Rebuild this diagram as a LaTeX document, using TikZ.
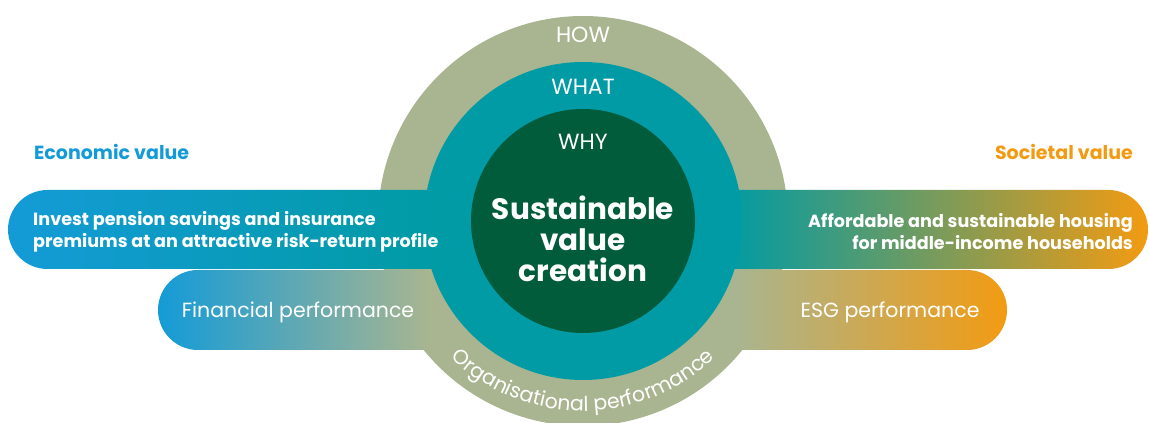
\documentclass[tikz,border=0pt]{standalone}
\usepackage{fontspec}
\setmainfont{Poppins}
\usetikzlibrary{decorations.text}

\definecolor{ringolive}{HTML}{A9B590}
\definecolor{ringteal}{HTML}{009BA4}
\definecolor{coregreen}{HTML}{005C3B}
\definecolor{valblue}{HTML}{149BD7}
\definecolor{valorange}{HTML}{F29B12}

\begin{document}
\begin{tikzpicture}[x=1pt, y=1pt,
  ring/.style={circle, inner sep=0pt},
  ringtext/.style={text=white, font=\fontsize{22}{22}\selectfont},
  coretext/.style={text=white, align=center, font=\bfseries\fontsize{29.5}{31}\selectfont},
  valuetext/.style={inner sep=0pt, font=\bfseries\fontsize{19}{19}\selectfont},
  pilltext/.style={inner sep=0pt, text=white, font=\bfseries\fontsize{17.6}{22}\selectfont},
  perftext/.style={text=white, font=\fontsize{20.5}{20.5}\selectfont}]
\useasboundingbox (0,0) rectangle (1149,423);

%outer ring
\node[ring, fill=ringolive, minimum size=410] (how) at (583,202) {};

%value pills
\shade[left color=valblue, right color=ringteal]
(440,233) -- (47.5,233) arc[start angle=90, end angle=270, radius=39.5] -- (440,154) -- cycle;
\shade[left color=ringteal, right color=valorange]
(726,233) -- (1108.5,233) arc[start angle=90, end angle=-90, radius=39.5] -- (726,154) -- cycle;

%performance pills
\shade[left color=valblue, right color=ringolive]
(430,153) -- (198,153) arc[start angle=90, end angle=270, radius=40] -- (430,73) -- cycle;
\shade[left color=ringolive, right color=valorange]
(736,153) -- (967,153) arc[start angle=90, end angle=-90, radius=40] -- (736,73) -- cycle;

%inner rings
\node[ring, fill=ringteal, minimum size=318] (what) at (583,202) {};
\node[ring, fill=coregreen, minimum size=224] (why) at (583,202) {};

%ring labels
\node[ringtext] (howlabel) at (583,388) {HOW};
\node[ringtext] (whatlabel) at (583,336) {WHAT};
\node[ringtext] (whylabel) at (583,281) {WHY};
\node[coretext] (core) at (583,184) {Sustainable\\value\\creation};
\path[decorate, decoration={text along path, text align=center, text color=white,
  text={|\fontsize{20.5}{20.5}\selectfont|Organisational performance}}]
(583,202) ++(221:190) arc[start angle=221, end angle=319, radius=190];

%value texts
\node[valuetext, text=valblue, anchor=west] (econ) at (34,271) {Economic value};
\node[valuetext, text=valorange, anchor=east] (soc) at (1133,271) {Societal value};
\node[pilltext, align=left, anchor=west] (econpill) at (33,191)
  {Invest pension savings and insurance\\premiums at an attractive risk-return profile};
\node[pilltext, align=right, anchor=east] (socpill) at (1133,191)
  {Affordable and sustainable housing\\for middle-income households};

%performance texts
\node[perftext] (finperf) at (298,111) {Financial performance};
\node[perftext] (esgperf) at (890,111) {ESG performance};
\end{tikzpicture}
\end{document}
